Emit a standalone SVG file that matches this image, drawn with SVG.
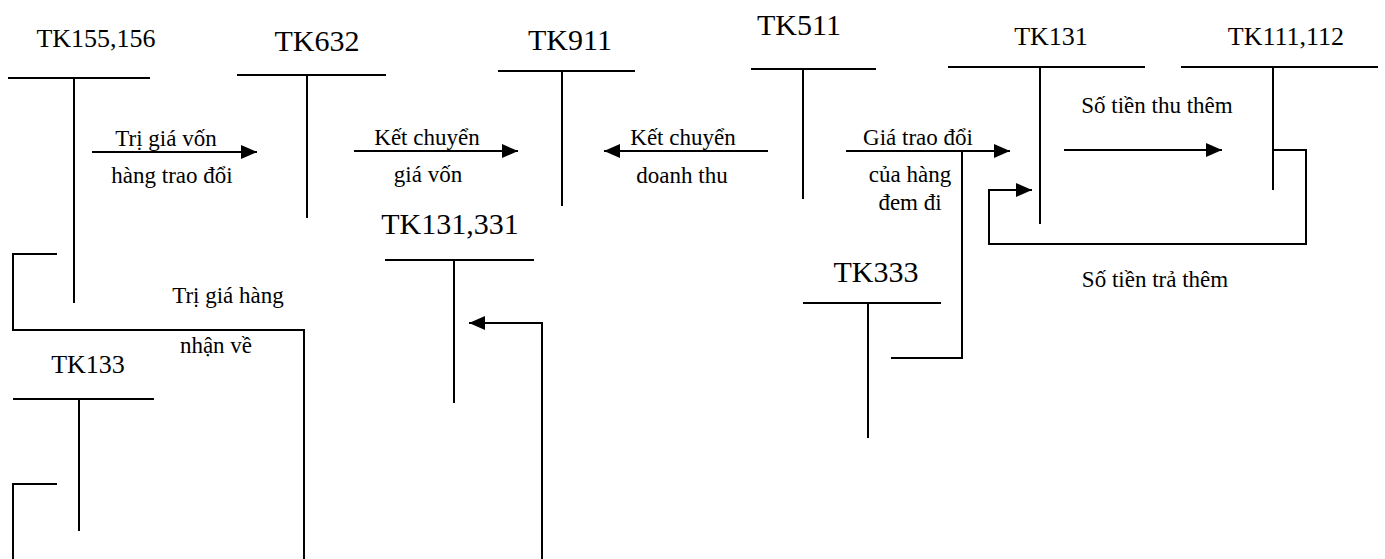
<svg xmlns="http://www.w3.org/2000/svg" width="1385" height="559" viewBox="0 0 1385 559" font-family="'Liberation Serif', 'Times New Roman', Times, 'DejaVu Serif', serif">
<style>
.ln{stroke:#000;stroke-width:2;fill:none}
text{font-family:'Liberation Serif','Times New Roman',Times,'DejaVu Serif',serif;fill:#000;text-anchor:middle}
.big{font-size:30px}
.mid{font-size:26px}
.lb{font-size:23px}
</style>
<defs>
<marker id="ah" markerUnits="userSpaceOnUse" markerWidth="16" markerHeight="14" refX="16" refY="7" orient="auto">
<path d="M0,0 L16,7 L0,14 z" fill="#000"/>
</marker>
</defs>
<rect width="1385" height="559" fill="#fff"/>
<g id="tk155">
<text class="mid" x="96" y="47">TK155,156</text>
<line class="ln" x1="8" y1="78" x2="150" y2="78"/>
<line class="ln" x1="74" y1="78" x2="74" y2="303"/>
</g>
<g id="tk632">
<text class="big" x="317" y="51">TK632</text>
<line class="ln" x1="237" y1="75" x2="386" y2="75"/>
<line class="ln" x1="307" y1="75" x2="307" y2="218"/>
</g>
<g id="tk911">
<text class="big" x="570" y="50">TK911</text>
<line class="ln" x1="498" y1="71" x2="635" y2="71"/>
<line class="ln" x1="562" y1="71" x2="562" y2="206"/>
</g>
<g id="tk511">
<text class="big" x="799" y="35">TK511</text>
<line class="ln" x1="751" y1="69" x2="876" y2="69"/>
<line class="ln" x1="803" y1="69" x2="803" y2="199"/>
</g>
<g id="tk131">
<text class="mid" x="1051" y="45">TK131</text>
<line class="ln" x1="948" y1="67" x2="1145" y2="67"/>
<line class="ln" x1="1040" y1="67" x2="1040" y2="224"/>
</g>
<g id="tk111">
<text class="mid" x="1286" y="45">TK111,112</text>
<line class="ln" x1="1181" y1="67" x2="1378" y2="67"/>
<line class="ln" x1="1273" y1="67" x2="1273" y2="190"/>
</g>
<g id="tk131331">
<text class="big" x="450" y="234">TK131,331</text>
<line class="ln" x1="385" y1="260" x2="534" y2="260"/>
<line class="ln" x1="454" y1="260" x2="454" y2="403"/>
</g>
<g id="tk333">
<text class="big" x="876" y="282">TK333</text>
<line class="ln" x1="803" y1="303" x2="941" y2="303"/>
<line class="ln" x1="868" y1="303" x2="868" y2="438"/>
</g>
<g id="tk133">
<text class="mid" x="88" y="373">TK133</text>
<line class="ln" x1="13" y1="399" x2="154" y2="399"/>
<line class="ln" x1="79" y1="399" x2="79" y2="531"/>
</g>
<g id="connectors">
<line class="ln" x1="92" y1="152" x2="257" y2="152" marker-end="url(#ah)"/>
<line class="ln" x1="354" y1="151" x2="518" y2="151" marker-end="url(#ah)"/>
<line class="ln" x1="768" y1="151" x2="604" y2="151" marker-end="url(#ah)"/>
<line class="ln" x1="846" y1="151" x2="1010" y2="151" marker-end="url(#ah)"/>
<polyline class="ln" points="962,151 962,358 891,358"/>
<line class="ln" x1="1064" y1="150" x2="1222" y2="150" marker-end="url(#ah)"/>
<polyline class="ln" points="1273,150 1306,150 1306,244 989,244 989,190 1032,190" marker-end="url(#ah)"/>
<polyline class="ln" points="57,254 13,254 13,330 304,330 304,559"/>
<polyline class="ln" points="57,484 13,484 13,559"/>
<polyline class="ln" points="542,559 542,323 469,323" marker-end="url(#ah)"/>
</g>
<g id="labels">
<text class="lb" x="166" y="146">Trị giá vốn</text>
<text class="lb" x="172" y="183">hàng trao đổi</text>
<text class="lb" x="427" y="145">Kết chuyển</text>
<text class="lb" x="428" y="182">giá vốn</text>
<text class="lb" x="683" y="145">Kết chuyển</text>
<text class="lb" x="682" y="183">doanh thu</text>
<text class="lb" x="918" y="145">Giá trao đổi</text>
<text class="lb" x="910" y="182">của hàng</text>
<text class="lb" x="910" y="210">đem đi</text>
<text class="lb" x="1157" y="113">Số tiền thu thêm</text>
<text class="lb" x="1155" y="287">Số tiền trả thêm</text>
<text class="lb" x="228" y="303">Trị giá hàng</text>
<text class="lb" x="216" y="353">nhận về</text>
</g>
</svg>
